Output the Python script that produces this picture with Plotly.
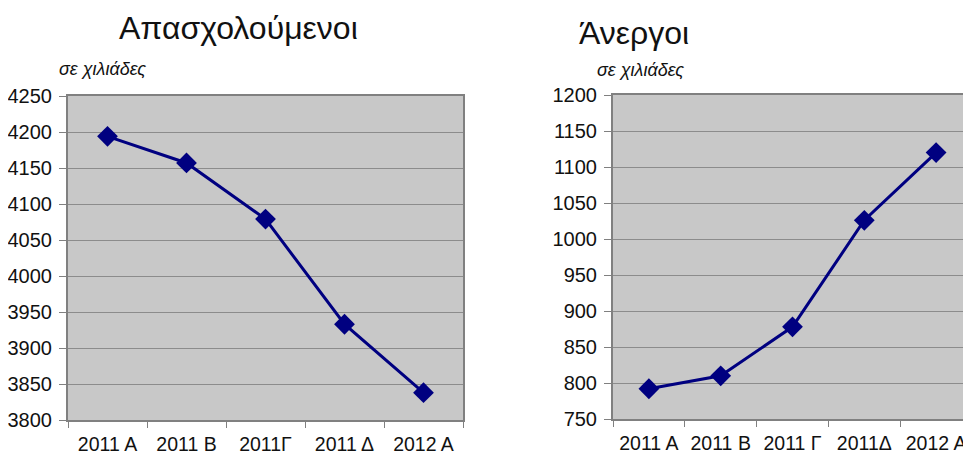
import plotly.graph_objects as go

W, H = 971, 456
OFF = 8  # page body margin shifts the figure by 8px

quarters_emp = ["2011 A", "2011 B", "2011Γ", "2011 Δ", "2012 A"]
employed = [4194, 4157, 4079, 3933, 3838]

quarters_unemp = ["2011 A", "2011 B", "2011 Γ", "2011Δ", "2012 A"]
unemployed = [792, 810, 878, 1026, 1120]

FONT = "Liberation Sans, Arial, sans-serif"
NAVY = "#000080"
PLOT_BG = "#C8C8C8"
GRID = "#8C8C8C"


def px_x(p):
    return (p - OFF) / W


def px_y(p):
    return 1 - (p - OFF) / H


fig = go.Figure()

fig.add_trace(
    go.Scatter(
        x=quarters_emp,
        y=employed,
        mode="lines+markers",
        line=dict(color=NAVY, width=3),
        marker=dict(symbol="diamond", size=16, color=NAVY),
        xaxis="x",
        yaxis="y",
        showlegend=False,
    )
)

fig.add_trace(
    go.Scatter(
        x=quarters_unemp,
        y=unemployed,
        mode="lines+markers",
        line=dict(color=NAVY, width=3),
        marker=dict(symbol="diamond", size=16, color=NAVY),
        xaxis="x2",
        yaxis="y2",
        showlegend=False,
    )
)

xcommon = dict(
    type="category",
    automargin=False,
    showgrid=False,
    showline=True,
    linecolor="#808080",
    linewidth=2,
    mirror=True,
    ticks="outside",
    tickson="boundaries",
    ticklen=6,
    tickcolor="#808080",
    ticklabelstandoff=6,
    tickfont=dict(family=FONT, size=19.5, color="#111111"),
    zeroline=False,
    fixedrange=True,
)

ycommon = dict(
    automargin=False,
    showgrid=True,
    gridcolor=GRID,
    gridwidth=1,
    showline=True,
    linecolor="#808080",
    linewidth=2,
    ticks="outside",
    ticklen=7,
    tickcolor="#808080",
    ticklabelstandoff=3,
    tickfont=dict(family=FONT, size=20, color="#111111"),
    dtick=50,
    zeroline=False,
    fixedrange=True,
)

fig.update_layout(
    width=W,
    height=H,
    margin=dict(l=0, r=0, t=0, b=0),
    paper_bgcolor="white",
    plot_bgcolor=PLOT_BG,
    xaxis=dict(
        xcommon,
        domain=[px_x(68), px_x(463)],
        range=[-0.5, 4.5],
        anchor="y",
    ),
    yaxis=dict(
        ycommon,
        domain=[px_y(420), px_y(96)],
        range=[3800, 4250],
        mirror=True,
        anchor="x",
    ),
    xaxis2=dict(
        xcommon,
        domain=[px_x(613), px_x(972)],
        range=[-0.5, 4.5],
        anchor="y2",
    ),
    yaxis2=dict(
        ycommon,
        domain=[px_y(419), px_y(95)],
        range=[750, 1200],
        anchor="x2",
    ),
    annotations=[
        dict(
            text="Απασχολούμενοι",
            x=px_x(238), y=px_y(28),
            xref="paper", yref="paper",
            xanchor="center", yanchor="middle",
            showarrow=False,
            font=dict(family=FONT, size=32, color="#111111"),
        ),
        dict(
            text="Άνεργοι",
            x=px_x(634), y=px_y(33),
            xref="paper", yref="paper",
            xanchor="center", yanchor="middle",
            showarrow=False,
            font=dict(family=FONT, size=32, color="#111111"),
        ),
        dict(
            text="<i>σε χιλιάδες</i>",
            x=px_x(57), y=px_y(69),
            xref="paper", yref="paper",
            xanchor="left", yanchor="middle",
            showarrow=False,
            font=dict(family=FONT, size=18, color="#111111"),
        ),
        dict(
            text="<i>σε χιλιάδες</i>",
            x=px_x(595), y=px_y(70),
            xref="paper", yref="paper",
            xanchor="left", yanchor="middle",
            showarrow=False,
            font=dict(family=FONT, size=18, color="#111111"),
        ),
    ],
)

fig.write_html("out.html", config={"displayModeBar": False})
